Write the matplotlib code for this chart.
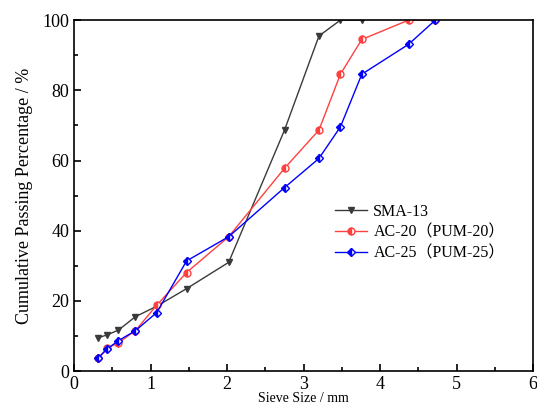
import matplotlib
matplotlib.use("Agg")
import matplotlib.pyplot as plt
from matplotlib.ticker import MultipleLocator

plt.rcParams["font.family"] = ["Liberation Serif", "Noto Sans CJK SC"]

# sieve size axis positions (as plotted)
sieve_x = [0.31, 0.43, 0.58, 0.80, 1.08, 1.47, 2.02, 2.75, 3.20, 3.48, 3.76, 4.37, 4.72]

sma13 = [9.5, 10.3, 11.7, 15.5, 18.5, 23.5, 31.0, 68.7, 95.5, 100, 100]
ac20 = [3.6, 6.5, 8.1, 11.5, 18.8, 28.1, 38.3, 57.8, 68.7, 84.6, 94.5, 100, 100]
ac25 = [3.6, 6.3, 8.7, 11.5, 16.7, 31.4, 38.3, 52.3, 60.6, 69.6, 84.6, 93.1, 100]

labels = ["SMA-13", "AC-20（PUM-20）", "AC-25（PUM-25）"]

fig = plt.figure(figsize=(5.37, 4.11), dpi=100)
ax = fig.add_axes([0.138, 0.097, 0.855, 0.854])

ax.plot(sieve_x[:len(sma13)], sma13, color="#3a3a3a", lw=1, marker="v",
        ms=5, mfc="#3a3a3a", mec="#3a3a3a", label=labels[0])
ax.plot(sieve_x, ac20, color="#ff4040", lw=1, marker="o", ms=5,
        fillstyle="left", mfc="#ff4040", mfcalt="white", mec="#ff4040",
        label=labels[1])
ax.plot(sieve_x, ac25, color="#0000ff", lw=1, marker="D", ms=4.5,
        fillstyle="left", mfc="#0000ff", mfcalt="white", mec="#0000ff",
        label=labels[2])

ax.set_xlim(0, 6)
ax.set_ylim(0, 100)
ax.xaxis.set_major_locator(MultipleLocator(1))
ax.xaxis.set_minor_locator(MultipleLocator(0.5))
ax.yaxis.set_major_locator(MultipleLocator(20))
ax.yaxis.set_minor_locator(MultipleLocator(10))
ax.tick_params(which="both", direction="in", top=False, right=False,
               labelsize=13, width=1.2)
ax.tick_params(which="major", length=5)
ax.tick_params(which="minor", length=3)
for s in ax.spines.values():
    s.set_linewidth(1.2)

ax.set_xlabel("Sieve Size / mm", fontsize=10, labelpad=-1)
ax.set_ylabel("Cumulative Passing Percentage / %", fontsize=13, labelpad=7)

ax.legend(loc="center left", bbox_to_anchor=(0.537, 0.394), frameon=False,
          fontsize=11.5, handlelength=2.0, handletextpad=0.4,
          labelspacing=0.3)

fig.savefig("out.png", dpi=100)
